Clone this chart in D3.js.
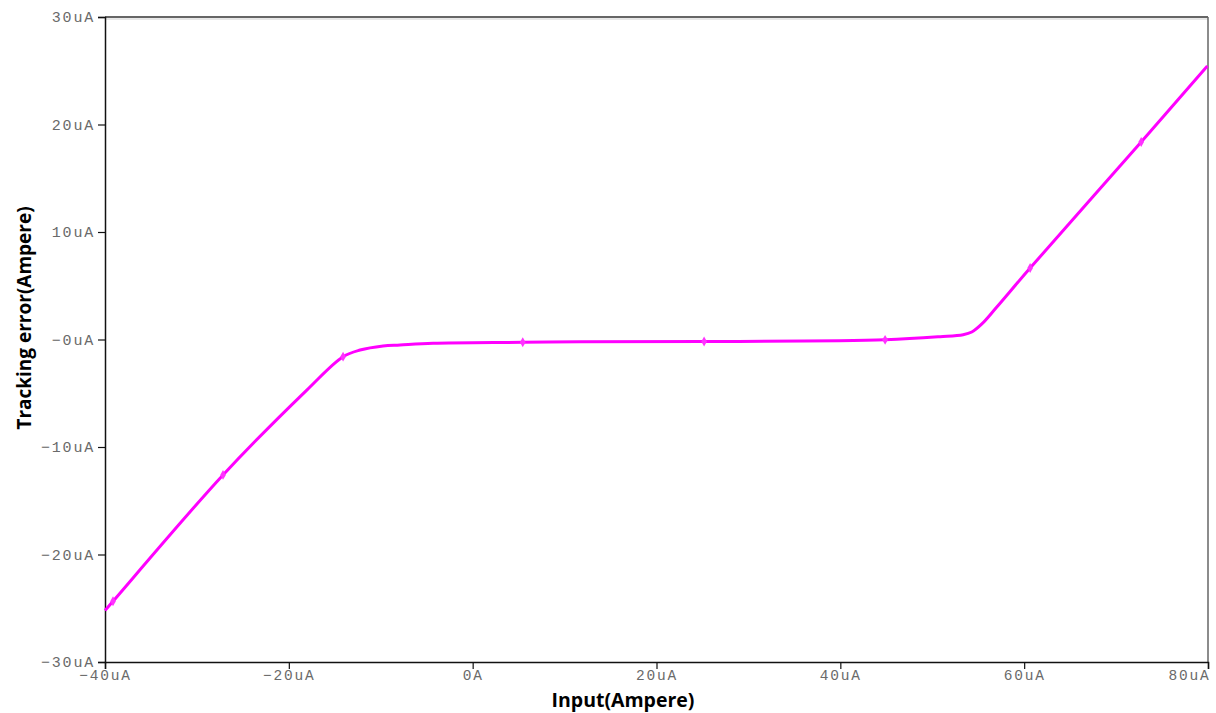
<!DOCTYPE html>
<html>
<head>
<meta charset="utf-8">
<script src="https://cdn.jsdelivr.net/npm/d3@7"></script>
<style>
  body { margin: 0; background: #fff; }
  .tick text { font-family: "Liberation Mono", "Courier New", monospace; font-size: 15px; fill: #6a6a6a; letter-spacing: 1.8px; }
  .xax .tick text { font-size: 14.5px; }
  .title { font-family: "Open Sans", sans-serif; font-weight: bold; font-size: 19px; fill: #000; }
</style>
</head>
<body>
<div id="chart"></div>
<script>
// curve samples, uA
const inputUA = [-40, -39.13, -27.16, -18.1, -14.1, -12.25, -9.75, -7.9, -4.31, 5.45, 11.7, 25.18, 44.87, 50.86, 53.36, 54.3, 55.4, 57.0, 60.65, 72.73, 79.93];
const errorUA = [-25.2, -24.35, -12.6, -4.75, -1.6, -0.98, -0.6, -0.51, -0.35, -0.26, -0.2, -0.19, -0.03, 0.26, 0.45, 0.7, 1.45, 3.0, 6.65, 18.37, 25.44];

// marker positions along the trace
const markerX = [-39.13, -27.16, -14.1, 5.45, 25.18, 44.87, 60.65, 72.73];
const markerY = [-24.35, -12.6, -1.6, -0.26, -0.19, -0.03, 6.65, 18.37];

const xTicks = [-40, -20, 0, 20, 40, 60, 80];
const xTickLabels = ["\u221240uA", "\u221220uA", "0A", "20uA", "40uA", "60uA", "80uA"];
const yTicks = [30, 20, 10, 0, -10, -20, -30];
const yTickLabels = ["30uA", "20uA", "10uA", "\u22120uA", "\u221210uA", "\u221220uA", "\u221230uA"];

const W = 1216, H = 713;
const m = { left: 105, right: 8, top: 17, bottom: 51 };

const svg = d3.select("#chart").append("svg")
  .attr("width", W).attr("height", H);

const x = d3.scaleLinear().domain([-40, 80]).range([m.left, W - m.right]);
const y = d3.scaleLinear().domain([-30, 30]).range([H - m.bottom, m.top]);

// frame: top and right
svg.append("line")
  .attr("x1", m.left).attr("x2", W - m.right)
  .attr("y1", m.top + 2).attr("y2", m.top + 2)
  .attr("stroke", "#d0d0d0").attr("stroke-width", 1);
svg.append("line")
  .attr("x1", m.left).attr("x2", W - m.right)
  .attr("y1", m.top).attr("y2", m.top)
  .attr("stroke", "#333").attr("stroke-width", 1.5);
svg.append("line")
  .attr("x1", W - m.right).attr("x2", W - m.right)
  .attr("y1", m.top).attr("y2", H - m.bottom)
  .attr("stroke", "#666").attr("stroke-width", 1.5);

// axes
const xAxis = svg.append("g")
  .attr("class", "xax")
  .attr("transform", `translate(0,${H - m.bottom})`)
  .call(d3.axisBottom(x).tickValues(xTicks).tickSize(7).tickPadding(1)
    .tickFormat((d, i) => xTickLabels[i]));
const yAxis = svg.append("g")
  .attr("transform", `translate(${m.left},0)`)
  .call(d3.axisLeft(y).tickValues(yTicks).tickSize(7).tickPadding(3)
    .tickFormat((d, i) => yTickLabels[i]));
[xAxis, yAxis].forEach(a => {
  a.select(".domain").attr("stroke", "#111").attr("stroke-width", 1.5);
  a.selectAll(".tick line").attr("stroke", "#111").attr("stroke-width", 1.2);
});
// last x label sits flush with the right edge
xAxis.selectAll(".tick text").filter(d => d === 80)
  .attr("text-anchor", "end").attr("dx", 2);

// trace
const pts = inputUA.map((v, i) => [v, errorUA[i]]);
svg.append("path")
  .datum(pts)
  .attr("fill", "none")
  .attr("stroke", "#ff00ff")
  .attr("stroke-width", 3)
  .attr("stroke-linejoin", "round")
  .attr("d", d3.line().x(d => x(d[0])).y(d => y(d[1])).curve(d3.curveCatmullRom.alpha(0.5)));

svg.selectAll(".mk")
  .data(markerX)
  .join("path")
    .attr("class", "mk")
    .attr("transform", (d, i) => `translate(${x(d)},${y(markerY[i])})`)
    .attr("d", d3.symbol().type(d3.symbolDiamond).size(28))
    .attr("fill", "#ff33ff");

// titles
svg.append("text")
  .attr("class", "title")
  .attr("x", 623).attr("y", 707)
  .attr("text-anchor", "middle")
  .style("font-size", "19.5px")
  .text("Input(Ampere)");
svg.append("text")
  .attr("class", "title")
  .attr("transform", "translate(31,318) rotate(-90)")
  .attr("text-anchor", "middle")
  .text("Tracking error(Ampere)");
</script>
</body>
</html>
